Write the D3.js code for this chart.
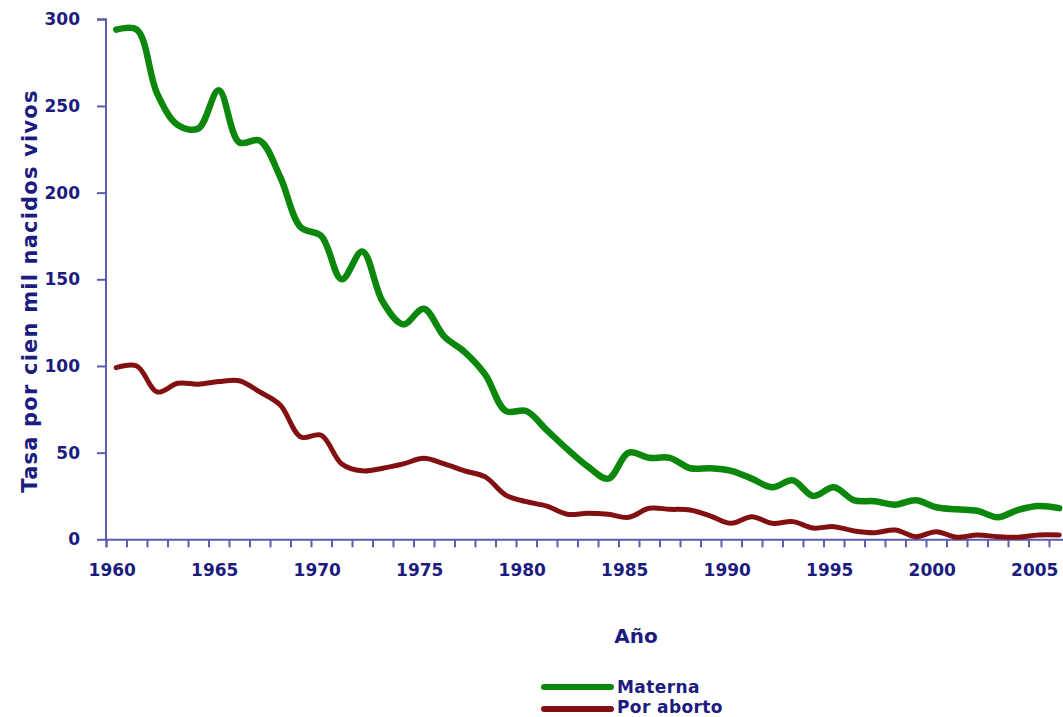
<!DOCTYPE html>
<html>
<head>
  <meta charset="utf-8">
  <script src="https://cdnjs.cloudflare.com/ajax/libs/d3/7.8.5/d3.min.js"></script>
  <style>
    html, body { margin: 0; padding: 0; background: #ffffff; overflow: hidden; }
    svg { display: block; }
    text { font-family: "DejaVu Sans", Verdana, sans-serif; font-weight: bold; fill: #1c1c80; }
  </style>
</head>
<body>
<svg id="chart" width="1063" height="717"></svg>
<script>
  // años 1960 - 2006
  const years = d3.range(1960, 2007);

  const materna = [
    294, 294, 257, 239, 237, 259, 229, 230, 209, 180,
    175, 150, 166, 137, 124, 133, 117, 108, 95, 74,
    74, 63, 52, 42, 35, 50, 47, 47, 41, 41,
    39.5, 35, 30, 34, 25, 30, 22.5, 22, 20, 22.5,
    18.5, 17.3, 16.5, 12.7, 17, 19.2, 18
  ];

  const porAborto = [
    99, 100, 85, 90, 89.5, 91, 91.5, 85, 77.5, 59,
    60, 43.5, 39.5, 41, 43.5, 46.7, 43.5, 39.5, 36, 25.5,
    21.7, 19.2, 14.5, 15, 14.4, 12.7, 17.9, 17.3, 16.9, 13.4,
    9.2, 13, 9.2, 10.2, 6.5, 7.3, 4.8, 3.8, 5.4, 1.5,
    4.4, 1.2, 2.5, 1.5, 1.2, 2.5, 2.5
  ];

  const yTicks = [0, 50, 100, 150, 200, 250, 300];
  const xLabels = [1960, 1965, 1970, 1975, 1980, 1985, 1990, 1995, 2000, 2005];

  const series = [
    { name: "Materna", values: materna, color: "#0b870b", width: 6.5 },
    { name: "Por aborto", values: porAborto, color: "#821010", width: 5 }
  ];

  const svg = d3.select("#chart");
  const axisColor = "#5c5cb0";

  const plotLeft = 106, plotTop = 19.3, plotBottom = 539.3;
  const step = 20.5;

  // eje de categorías: cada año ocupa una banda de ancho fijo
  let x = d3.scaleLinear()
    .domain([1960, 1960 + years.length])
    .range([plotLeft, plotLeft + step * years.length]);
  let xc = yr => x(yr + 0.5);

  let y = d3.scaleLinear().domain([0, 300]).range([plotBottom, plotTop]);

  // eje Y
  let yAxis = svg.append("g")
    .attr("transform", `translate(${plotLeft},0)`)
    .call(d3.axisLeft(y).tickValues(yTicks).tickSize(9).tickPadding(17));
  yAxis.select(".domain").attr("stroke", axisColor).attr("stroke-width", 2).attr("d", `M-9,${plotTop}H0V${plotBottom}`);
  yAxis.selectAll(".tick line").attr("stroke", axisColor).attr("stroke-width", 2);
  yAxis.selectAll(".tick text")
    .attr("font-size", 17)
    .attr("font-family", "DejaVu Sans")
    .attr("font-weight", "bold")
    .attr("fill", "#1c1c80");

  // eje X
  let xAxis = svg.append("g")
    .attr("transform", `translate(0,${plotBottom})`)
    .call(d3.axisBottom(x).tickValues(d3.range(1960, 1960 + years.length + 1)).tickSize(8).tickFormat(""));
  xAxis.select(".domain").attr("stroke", axisColor).attr("stroke-width", 2);
  xAxis.selectAll(".tick line").attr("stroke", axisColor).attr("stroke-width", 2);

  svg.append("g").selectAll("text")
    .data(xLabels)
    .join("text")
    .attr("x", d => xc(d) - 4)
    .attr("y", plotBottom + 37)
    .attr("text-anchor", "middle")
    .attr("font-size", 17)
    .text(d => d);

  // títulos de ejes
  svg.append("text")
    .attr("transform", "translate(37,291) rotate(-90)")
    .attr("text-anchor", "middle")
    .attr("font-size", 21)
    .attr("letter-spacing", 1.2)
    .text("Tasa por cien mil nacidos vivos");

  svg.append("text")
    .attr("x", 636)
    .attr("y", 643)
    .attr("text-anchor", "middle")
    .attr("font-size", 20)
    .text("Año");

  // líneas suavizadas
  let line = d3.line()
    .x((d, i) => xc(years[i]))
    .y(d => y(d))
    .curve(d3.curveCatmullRom.alpha(0.5));

  series.forEach(s => {
    svg.append("path")
      .datum(s.values)
      .attr("fill", "none")
      .attr("stroke", s.color)
      .attr("stroke-width", s.width)
      .attr("stroke-linecap", "round")
      .attr("stroke-linejoin", "round")
      .attr("d", line);
  });

  // leyenda
  let legend = svg.append("g").attr("transform", "translate(544,687)");
  series.forEach((s, i) => {
    legend.append("line")
      .attr("x1", 0).attr("x2", 67)
      .attr("y1", i * 22).attr("y2", i * 22)
      .attr("stroke", s.color)
      .attr("stroke-width", 6)
      .attr("stroke-linecap", "round");
    legend.append("text")
      .attr("x", 73)
      .attr("y", i * 20 + 6)
      .attr("font-size", 17)
      .attr("letter-spacing", 0.4)
      .text(s.name);
  });
</script>
</body>
</html>
